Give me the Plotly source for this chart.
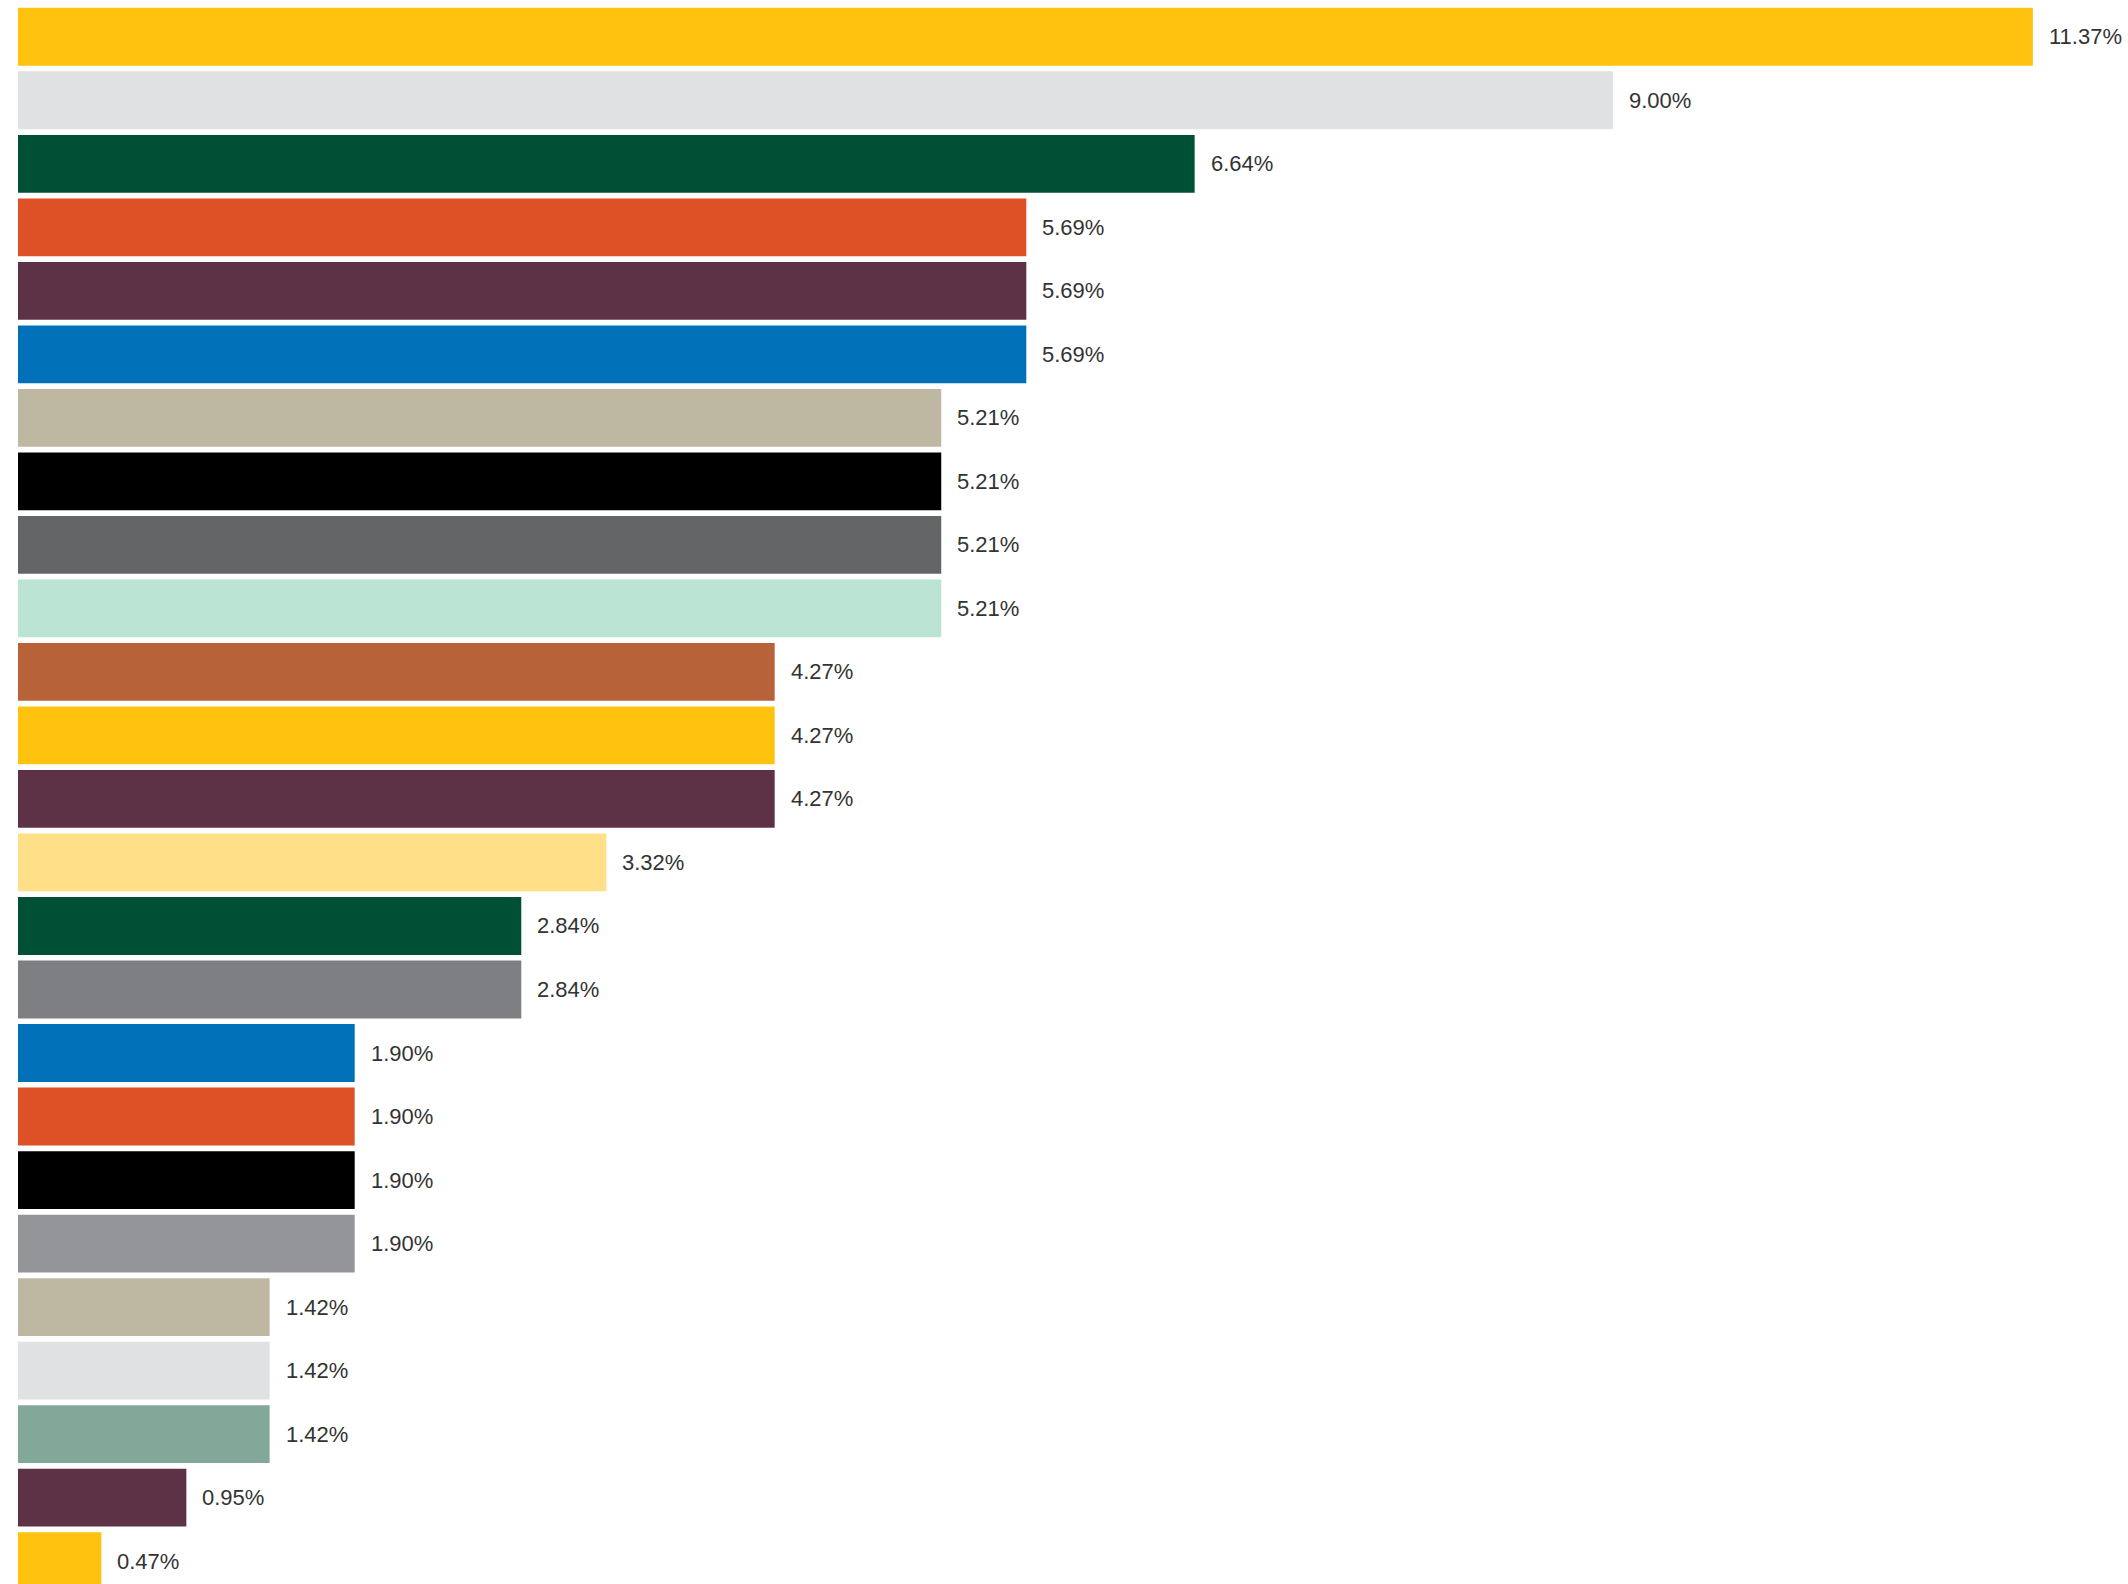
import plotly.graph_objects as go

values = [11.37, 9.00, 6.64, 5.69, 5.69, 5.69, 5.21, 5.21, 5.21, 5.21,
          4.27, 4.27, 4.27, 3.32, 2.84, 2.84, 1.90, 1.90, 1.90, 1.90,
          1.42, 1.42, 1.42, 0.95, 0.47]
labels = ["11.37%", "9.00%", "6.64%", "5.69%", "5.69%", "5.69%", "5.21%", "5.21%",
          "5.21%", "5.21%", "4.27%", "4.27%", "4.27%", "3.32%", "2.84%", "2.84%",
          "1.90%", "1.90%", "1.90%", "1.90%", "1.42%", "1.42%", "1.42%", "0.95%", "0.47%"]
colors = ["#FFC20E", "#E0E1E3", "#005035", "#DE5026", "#5E3246", "#0070B8",
          "#BEB8A2", "#000000", "#646567", "#BBE4D4", "#B8623A", "#FFC20E",
          "#5E3246", "#FFDF88", "#005035", "#7E7F83", "#0070B8", "#DE5026",
          "#000000", "#949598", "#BEB8A2", "#E0E1E3", "#82A89A", "#5E3246",
          "#FFC20E"]
positions = list(range(len(values)))

fig = go.Figure()
fig.add_trace(go.Bar(
    x=values,
    y=positions,
    orientation="h",
    marker=dict(color=colors, line=dict(width=0)),
    width=0.91,
    hoverinfo="skip",
))

for v, p, t in zip(values, positions, labels):
    fig.add_annotation(x=v, y=p, text=t, showarrow=False, xanchor="left",
                       yanchor="middle", xshift=14,
                       font=dict(family="Liberation Sans, Arial, Helvetica, sans-serif",
                                 size=22, color="#333333"))

fig.update_layout(
    width=2128, height=1584,
    margin=dict(l=18, r=0, t=5, b=0),
    paper_bgcolor="white", plot_bgcolor="white",
    showlegend=False,
    xaxis=dict(range=[0, 11.907], visible=False, fixedrange=True),
    yaxis=dict(range=[24.36, -0.5], visible=False, fixedrange=True),
)

fig.write_html("out.html")
